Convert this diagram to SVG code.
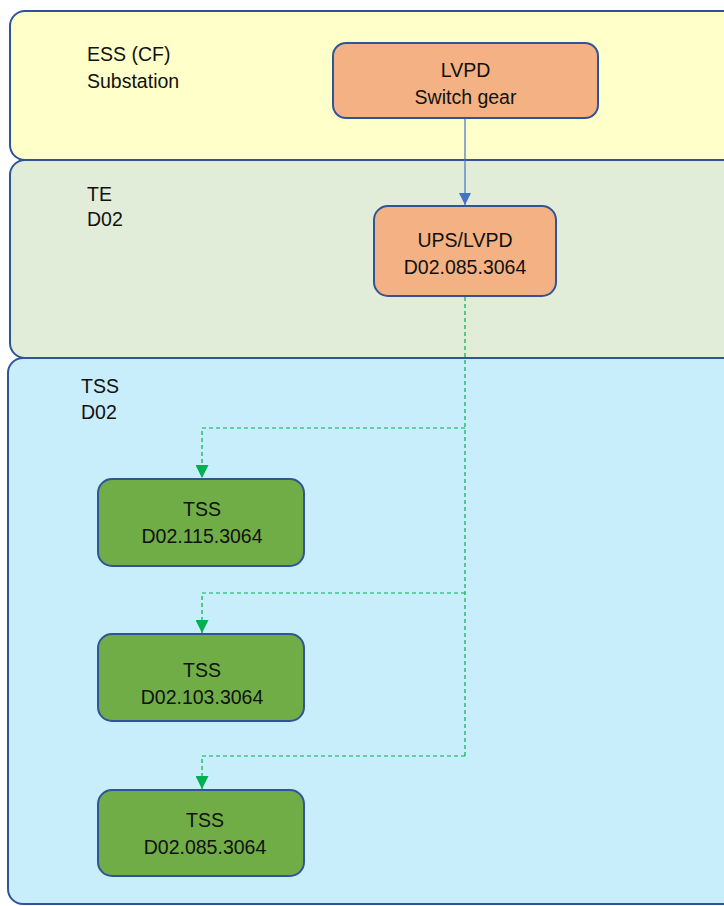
<svg xmlns="http://www.w3.org/2000/svg" width="724" height="906" viewBox="0 0 724 906">
  <defs>
    <style>
      .zone { stroke: #2F5597; stroke-width: 2; }
      .node { stroke: #2F5597; stroke-width: 2; }
      .lbl { font-family: "Liberation Sans", Arial, sans-serif; font-size: 19.5px; fill: #111; }
      .ctr { text-anchor: middle; }
      .feed { fill: none; stroke: #4472C4; stroke-width: 1.2; }
      .dash { fill: none; stroke: #00B050; stroke-width: 1.2; stroke-dasharray: 4 3; }
    </style>
    <marker id="arrBlue" viewBox="0 0 10 10" refX="10" refY="5" markerWidth="12" markerHeight="12" markerUnits="userSpaceOnUse" orient="auto">
      <path d="M0,0 L10,5 L0,10 Z" fill="#4472C4"/>
    </marker>
    <marker id="arrGreen" viewBox="0 0 10 10" refX="10" refY="5" markerWidth="13" markerHeight="13" markerUnits="userSpaceOnUse" orient="auto">
      <path d="M0,0 L10,5 L0,10 Z" fill="#00B050"/>
    </marker>
  </defs>

  <rect width="724" height="906" fill="#ffffff"/>

  <!-- zones -->
  <g id="zone-ess">
    <rect class="zone" x="10" y="11" width="730" height="149" rx="15" fill="#FFFFC9"/>
    <text class="lbl" x="87" y="61">ESS (CF)</text>
    <text class="lbl" x="87" y="88">Substation</text>
  </g>
  <g id="zone-te">
    <rect class="zone" x="10" y="160" width="730" height="198" rx="15" fill="#E1EDD8"/>
    <text class="lbl" x="87" y="201">TE</text>
    <text class="lbl" x="87" y="226">D02</text>
  </g>
  <g id="zone-tss">
    <rect class="zone" x="8" y="358" width="732" height="546" rx="15" fill="#C8EDFB"/>
    <text class="lbl" x="81" y="393">TSS</text>
    <text class="lbl" x="81" y="419">D02</text>
  </g>

  <!-- connectors -->
  <g id="connectors">
    <path class="feed" d="M465,118 V205" marker-end="url(#arrBlue)"/>
    <path class="dash" d="M465,297 V756"/>
    <path class="dash" d="M465,428 H202 V478" marker-end="url(#arrGreen)"/>
    <path class="dash" d="M465,593 H202 V633" marker-end="url(#arrGreen)"/>
    <path class="dash" d="M465,756 H202 V789" marker-end="url(#arrGreen)"/>
  </g>

  <!-- nodes -->
  <g id="node-lvpd">
    <rect class="node" x="333" y="43" width="265" height="75" rx="13" fill="#F4B183"/>
    <text class="lbl ctr" x="465.5" y="77">LVPD</text>
    <text class="lbl ctr" x="465.5" y="104">Switch gear</text>
  </g>
  <g id="node-ups">
    <rect class="node" x="374" y="206" width="182" height="90" rx="14" fill="#F4B183"/>
    <text class="lbl ctr" x="465" y="247">UPS/LVPD</text>
    <text class="lbl ctr" x="465" y="274">D02.085.3064</text>
  </g>
  <g id="node-tss-115">
    <rect class="node" x="98" y="479" width="206" height="87" rx="14" fill="#70AD47"/>
    <text class="lbl ctr" x="202" y="516">TSS</text>
    <text class="lbl ctr" x="202" y="543">D02.115.3064</text>
  </g>
  <g id="node-tss-103">
    <rect class="node" x="98" y="634" width="206" height="87" rx="14" fill="#70AD47"/>
    <text class="lbl ctr" x="202" y="677">TSS</text>
    <text class="lbl ctr" x="202" y="704">D02.103.3064</text>
  </g>
  <g id="node-tss-085">
    <rect class="node" x="98" y="790" width="206" height="86" rx="14" fill="#70AD47"/>
    <text class="lbl ctr" x="205" y="827">TSS</text>
    <text class="lbl ctr" x="205" y="854">D02.085.3064</text>
  </g>
</svg>
